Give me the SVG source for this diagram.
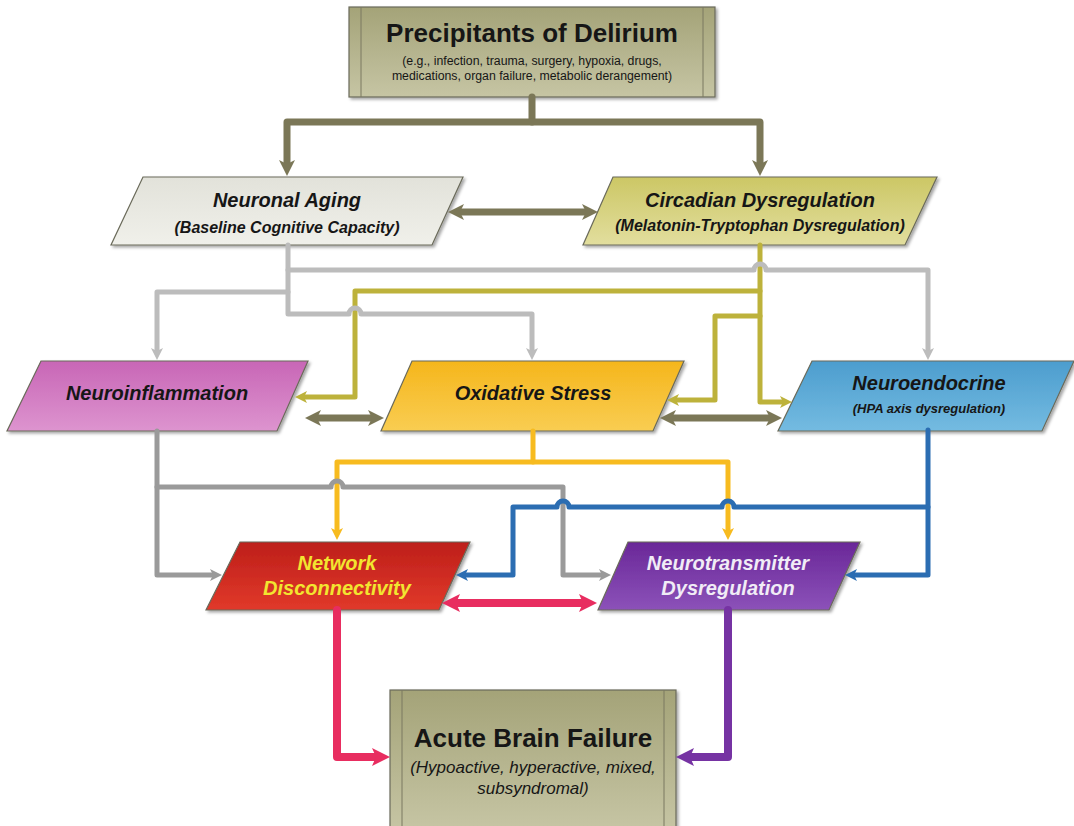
<svg xmlns="http://www.w3.org/2000/svg" width="1074" height="826" viewBox="0 0 1074 826">
<defs>
<style>
.t{font-family:"Liberation Sans",Arial,sans-serif;fill:#161616;text-anchor:middle}
.bi{font-weight:bold;font-style:italic}
.b{font-weight:bold}
.node{stroke:#6a6a5a;stroke-width:1.2;filter:url(#sh)}
.c{fill:none;stroke-linejoin:round;stroke-linecap:round}
.ol{stroke:#7b7757;stroke-width:7}
.lg{stroke:#bcbcbc;stroke-width:5}
.dg{stroke:#9a9a9a;stroke-width:5}
.yo{stroke:#bdb23b;stroke-width:5}
.ye{stroke:#f7bb1f;stroke-width:5}
.bl{stroke:#2b6db2;stroke-width:5}
.pk{stroke:#e82d60;stroke-width:8}
.pu{stroke:#7633a3;stroke-width:8}
</style>
<filter id="sh" x="-10%" y="-10%" width="120%" height="130%">
<feDropShadow dx="2" dy="2" stdDeviation="1.5" flood-color="#000" flood-opacity="0.35"/>
</filter>
<linearGradient id="gBox" x1="0" y1="0" x2="0" y2="1"><stop offset="0" stop-color="#a4a378"/><stop offset="1" stop-color="#c6c5a4"/></linearGradient>
<linearGradient id="gAge" x1="0" y1="0" x2="0" y2="1"><stop offset="0" stop-color="#e2e2da"/><stop offset="1" stop-color="#f0f0ea"/></linearGradient>
<linearGradient id="gCirc" x1="0" y1="0" x2="0" y2="1"><stop offset="0" stop-color="#ccc765"/><stop offset="1" stop-color="#e2de9e"/></linearGradient>
<linearGradient id="gInf" x1="0" y1="0" x2="0" y2="1"><stop offset="0" stop-color="#c866b6"/><stop offset="1" stop-color="#dd94cf"/></linearGradient>
<linearGradient id="gOx" x1="0" y1="0" x2="0" y2="1"><stop offset="0" stop-color="#f5b61c"/><stop offset="1" stop-color="#f9cd52"/></linearGradient>
<linearGradient id="gEnd" x1="0" y1="0" x2="0" y2="1"><stop offset="0" stop-color="#4c9dce"/><stop offset="1" stop-color="#74bbe1"/></linearGradient>
<linearGradient id="gNet" x1="0" y1="0" x2="0" y2="1"><stop offset="0" stop-color="#bd1f1a"/><stop offset="1" stop-color="#e1392a"/></linearGradient>
<linearGradient id="gNt" x1="0" y1="0" x2="0" y2="1"><stop offset="0" stop-color="#6a2798"/><stop offset="1" stop-color="#8c52b9"/></linearGradient>
<marker id="mOl" viewBox="0 0 16 16" markerUnits="userSpaceOnUse" markerWidth="16" markerHeight="16" refX="4" refY="8" orient="auto-start-reverse"><path d="M0,0 L16,8 L0,16 L4,8 z" fill="#7b7757"/></marker>
<marker id="mLg" viewBox="0 0 12 12" markerUnits="userSpaceOnUse" markerWidth="12" markerHeight="12" refX="3" refY="6" orient="auto-start-reverse"><path d="M0,0 L12,6 L0,12 L3,6 z" fill="#bcbcbc"/></marker>
<marker id="mDg" viewBox="0 0 12 12" markerUnits="userSpaceOnUse" markerWidth="12" markerHeight="12" refX="3" refY="6" orient="auto-start-reverse"><path d="M0,0 L12,6 L0,12 L3,6 z" fill="#9a9a9a"/></marker>
<marker id="mYo" viewBox="0 0 12 12" markerUnits="userSpaceOnUse" markerWidth="12" markerHeight="12" refX="3" refY="6" orient="auto-start-reverse"><path d="M0,0 L12,6 L0,12 L3,6 z" fill="#bdb23b"/></marker>
<marker id="mYe" viewBox="0 0 12 12" markerUnits="userSpaceOnUse" markerWidth="12" markerHeight="12" refX="3" refY="6" orient="auto-start-reverse"><path d="M0,0 L12,6 L0,12 L3,6 z" fill="#f7bb1f"/></marker>
<marker id="mBl" viewBox="0 0 12 12" markerUnits="userSpaceOnUse" markerWidth="12" markerHeight="12" refX="3" refY="6" orient="auto-start-reverse"><path d="M0,0 L12,6 L0,12 L3,6 z" fill="#2b6db2"/></marker>
<marker id="mPk" viewBox="0 0 18 18" markerUnits="userSpaceOnUse" markerWidth="18" markerHeight="18" refX="4" refY="9" orient="auto-start-reverse"><path d="M0,0 L18,9 L0,18 L4,9 z" fill="#e82d60"/></marker>
<marker id="mPu" viewBox="0 0 18 18" markerUnits="userSpaceOnUse" markerWidth="18" markerHeight="18" refX="4" refY="9" orient="auto-start-reverse"><path d="M0,0 L18,9 L0,18 L4,9 z" fill="#7633a3"/></marker>
</defs>
<rect width="1074" height="826" fill="#ffffff"/>

<g id="precipitants">
<rect class="node" x="349" y="7" width="366" height="90" fill="url(#gBox)"/>
<line x1="361" y1="7" x2="361" y2="97" stroke="#7a7960" stroke-width="1"/>
<line x1="703" y1="7" x2="703" y2="97" stroke="#7a7960" stroke-width="1"/>
<text class="t b" x="532" y="42" font-size="26">Precipitants of Delirium</text>
<text class="t" x="532" y="65" font-size="12.3">(e.g., infection, trauma, surgery, hypoxia, drugs,</text>
<text class="t" x="532" y="80" font-size="12.3">medications, organ failure, metabolic derangement)</text>
</g>

<g id="neuronal-aging">
<polygon class="node" points="143,177 463,177 432,245 111,245" fill="url(#gAge)"/>
<text class="t bi" x="287" y="207" font-size="20">Neuronal Aging</text>
<text class="t bi" x="287" y="233" font-size="16">(Baseline Cognitive Capacity)</text>
</g>

<g id="circadian">
<polygon class="node" points="613,177 937,177 905,245 583,245" fill="url(#gCirc)"/>
<text class="t bi" x="760" y="207" font-size="20">Circadian Dysregulation</text>
<text class="t bi" x="760" y="231" font-size="16">(Melatonin-Tryptophan Dysregulation)</text>
</g>

<g id="neuroinflammation">
<polygon class="node" points="41,361 308,361 277,431 7,431" fill="url(#gInf)"/>
<text class="t bi" x="157" y="400" font-size="20">Neuroinflammation</text>
</g>

<g id="oxidative">
<polygon class="node" points="412,361 684,361 653,431 381,431" fill="url(#gOx)"/>
<text class="t bi" x="533" y="400" font-size="20">Oxidative Stress</text>
</g>

<g id="neuroendocrine">
<polygon class="node" points="812,361 1074,361 1042,431 778,431" fill="url(#gEnd)"/>
<text class="t bi" x="929" y="390" font-size="20">Neuroendocrine</text>
<text class="t bi" x="929" y="413" font-size="13">(HPA axis dysregulation)</text>
</g>

<g id="network">
<polygon class="node" points="240,542 470,542 439,610 206,610" fill="url(#gNet)"/>
<text class="t bi" x="337" y="570" font-size="20" style="fill:#f2e530">Network</text>
<text class="t bi" x="337" y="595" font-size="20" style="fill:#f2e530">Disconnectivity</text>
</g>

<g id="neurotransmitter">
<polygon class="node" points="628,542 860,542 829,610 598,610" fill="url(#gNt)"/>
<text class="t bi" x="728" y="570" font-size="20" style="fill:#f1ecf6">Neurotransmitter</text>
<text class="t bi" x="728" y="595" font-size="20" style="fill:#f1ecf6">Dysregulation</text>
</g>

<g id="acute">
<rect class="node" x="390" y="690" width="286" height="140" fill="url(#gBox)"/>
<line x1="402" y1="690" x2="402" y2="830" stroke="#7a7960" stroke-width="1"/>
<line x1="664" y1="690" x2="664" y2="830" stroke="#7a7960" stroke-width="1"/>
<text class="t b" x="533" y="747" font-size="26">Acute Brain Failure</text>
<text class="t" x="533" y="773" font-size="17" font-style="italic">(Hypoactive, hyperactive, mixed,</text>
<text class="t" x="533" y="794" font-size="17" font-style="italic">subsyndromal)</text>
</g>

<g id="connectors">
<path class="c ol" d="M532,97 V122"/>
<path class="c ol" d="M287,164 V122 H760 V164" marker-start="url(#mOl)" marker-end="url(#mOl)"/>
<path class="c ol" d="M460,212 H586" marker-start="url(#mOl)" marker-end="url(#mOl)"/>
<path class="c ol" d="M317,418 H372" marker-start="url(#mOl)" marker-end="url(#mOl)"/>
<path class="c ol" d="M672,418 H770" marker-start="url(#mOl)" marker-end="url(#mOl)"/>

<path class="c yo" d="M760,245 V402 H783" marker-end="url(#mYo)"/>
<path class="c yo" d="M760,291 H355 V397 H304" marker-end="url(#mYo)"/>
<path class="c yo" d="M760,316 H715 V400 H676" marker-end="url(#mYo)"/>

<path class="c lg" d="M288,245 V292 H157 V351" marker-end="url(#mLg)"/>
<path class="c lg" d="M288,292 V314 H349 A6,6 0 0 1 361,314 H532 V351" marker-end="url(#mLg)"/>
<path class="c lg" d="M288,270 H754 A6,6 0 0 1 766,270 H928 V351" marker-end="url(#mLg)"/>

<path class="c ye" d="M533,431 V462"/>
<path class="c ye" d="M337,531 V462 H728 V531" marker-start="url(#mYe)" marker-end="url(#mYe)"/>

<path class="c dg" d="M157,431 V575 H213" marker-end="url(#mDg)"/>
<path class="c dg" d="M157,487 H331 A6,6 0 0 1 343,487 H563 V575 H602" marker-end="url(#mDg)"/>

<path class="c bl" d="M928,430 V575 H854" marker-end="url(#mBl)"/>
<path class="c bl" d="M928,507 H734 A6,6 0 0 0 722,507 H569 A6,6 0 0 0 557,507 H513 V575 H465" marker-end="url(#mBl)"/>

<path class="c pk" d="M456,603 H583" marker-start="url(#mPk)" marker-end="url(#mPk)"/>
<path class="c pk" d="M337,610 V757 H376" marker-end="url(#mPk)"/>
<path class="c pu" d="M728,610 V757 H690" marker-end="url(#mPu)"/>
</g>
</svg>
